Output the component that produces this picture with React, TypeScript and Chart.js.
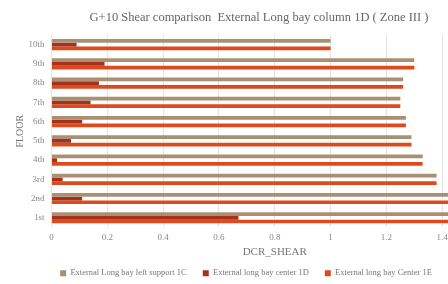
import React, { useEffect, useRef } from "react";
import { Chart, registerables } from "chart.js";

Chart.register(...registerables);

const floors = ["10th", "9th", "8th", "7th", "6th", "5th", "4th", "3rd", "2nd", "1st"];
const leftSupport1C = [1.0, 1.3, 1.26, 1.25, 1.27, 1.29, 1.33, 1.38, 1.45, 1.47];
const center1D = [0.09, 0.19, 0.17, 0.14, 0.11, 0.07, 0.02, 0.04, 0.11, 0.67];
const center1E = [1.0, 1.3, 1.26, 1.25, 1.27, 1.29, 1.33, 1.38, 1.45, 1.47];
const seriesNames = [
  "External Long bay left support 1C",
  "External long bay center 1D",
  "External long bay Center 1E",
];
const titleText = "G+10 Shear comparison  External Long bay column 1D ( Zone III )";

const FONT = "'Liberation Serif', 'DejaVu Serif', serif";

const blockShift = {
  id: "blockShift",
  afterLayout(chart: any) {
    const lg = chart.legend;
    if (lg) {
      lg.top += 3.5;
      lg.bottom += 3.5;
      lg.left -= 3;
      lg.right -= 3;
    }
    const tb = chart.titleBlock;
    if (tb) {
      tb.left += 10;
      tb.right += 10;
    }
  },
};

export default function App() {
  const ref = useRef<HTMLCanvasElement | null>(null);
  useEffect(() => {
    if (!ref.current) return;
    const chart = new Chart(ref.current, {
      type: "bar",
      data: {
        labels: floors,
        datasets: [
          { label: seriesNames[0], data: leftSupport1C, backgroundColor: "#A89070" },
          { label: seriesNames[1], data: center1D, backgroundColor: "#A5301E" },
          { label: seriesNames[2], data: center1E, backgroundColor: "#DC4A1E" },
        ],
      },
      plugins: [blockShift],
      options: {
        indexAxis: "y",
        animation: false,
        responsive: false,
        maintainAspectRatio: false,
        layout: { padding: { left: 0, right: 20, top: 0, bottom: 0 } },
        datasets: { bar: { categoryPercentage: 0.58, barPercentage: 1.0, borderWidth: 0 } },
        plugins: {
          title: {
            display: true,
            text: titleText,
            color: "#666666",
            font: { family: FONT, size: 12.5, weight: "normal" },
            padding: { top: 10, bottom: 10 },
          },
          legend: {
            position: "bottom",
            labels: {
              color: "#777777",
              font: { family: FONT, size: 8.5 },
              boxWidth: 6,
              boxHeight: 6,
              padding: 16,
            },
          },
          tooltip: { enabled: false },
        },
        scales: {
          x: {
            min: 0,
            max: 1.6,
            afterFit: (s: any) => {
              s.height = 22.1;
            },
            ticks: {
              stepSize: 0.2,
              padding: 5,
              color: "#888888",
              font: { family: FONT, size: 9 },
              callback: (v: any) => String(Number(Number(v).toFixed(1))),
            },
            grid: { color: "#e4e4e4", drawTicks: false },
            border: { display: false },
            title: {
              display: true,
              text: "DCR_SHEAR",
              color: "#777777",
              font: { family: FONT, size: 11 },
              padding: { top: 0, bottom: -9.1 },
            },
          },
          y: {
            afterFit: (s: any) => {
              s.width = 51.5;
            },
            ticks: { color: "#888888", padding: 7, font: { family: FONT, size: 9 } },
            grid: { display: false, drawTicks: false },
            border: { display: false },
            title: {
              display: true,
              text: "FLOOR",
              color: "#777777",
              font: { family: FONT, size: 10 },
              padding: { top: 14, bottom: 0 },
            },
          },
        },
      },
    });
    return () => chart.destroy();
  }, []);
  return (
    <div style={{ position: "fixed", left: 0, top: 0, width: 518, height: 284, background: "#fff" }}>
      <canvas ref={ref} width={518} height={284} style={{ width: 518, height: 284 }} />
    </div>
  );
}
